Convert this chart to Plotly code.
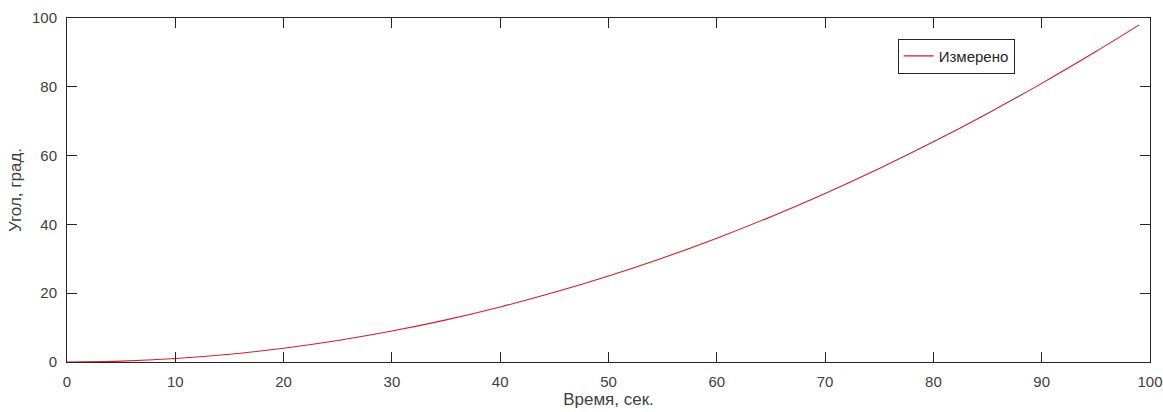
import plotly.graph_objects as go

time_s = [0, 5, 10, 15, 20, 25, 30, 35, 40, 45, 50, 55, 60, 65, 70, 75, 80, 85, 90, 95, 99]
angle_deg = [0, 0.25, 1, 2.25, 4, 6.25, 9, 12.25, 16, 20.25, 25, 30.25, 36, 42.25, 49,
             56.25, 64, 72.25, 81, 90.25, 98]
series_name = "Измерено"
x_ticks = [0, 10, 20, 30, 40, 50, 60, 70, 80, 90, 100]
y_ticks = [0, 20, 40, 60, 80, 100]

FONT = "Liberation Sans, Arial, Helvetica, sans-serif"

fig = go.Figure()
fig.add_trace(go.Scatter(x=time_s, y=angle_deg, mode="lines", name=series_name,
                         line=dict(color="#d41f26", width=1.1, shape="spline"),
                         showlegend=True))

axis_common = dict(showgrid=False, zeroline=False, showline=True, linecolor="#262626",
                   linewidth=1, mirror="ticks", ticks="inside", ticklen=10,
                   tickcolor="#262626", tickwidth=1, automargin=False,
                   ticklabelstandoff=6,
                   tickfont=dict(family=FONT, size=15, color="#404040"))

fig.update_layout(
    width=1163, height=412,
    margin=dict(l=67, r=13, t=18, b=50),
    paper_bgcolor="white", plot_bgcolor="white",
    xaxis=dict(range=[0, 100], tickvals=x_ticks,
               title=dict(text="Время, сек.", standoff=2,
                          font=dict(family=FONT, size=17, color="#404040")),
               **axis_common),
    yaxis=dict(range=[0, 100], tickvals=y_ticks,
               title=dict(text="Угол, град.", standoff=6,
                          font=dict(family=FONT, size=17, color="#404040")),
               **axis_common),
    showlegend=True,
    legend=dict(x=0.767, y=0.94, xanchor="left", yanchor="top",
                bgcolor="white", bordercolor="#262626", borderwidth=1,
                font=dict(family=FONT, size=15, color="#262626"),
                itemwidth=30, tracegroupgap=0),
)

fig.write_html("out.html", config={"displayModeBar": False},
               post_script="document.body.style.margin='0';document.body.style.overflow='hidden';")
